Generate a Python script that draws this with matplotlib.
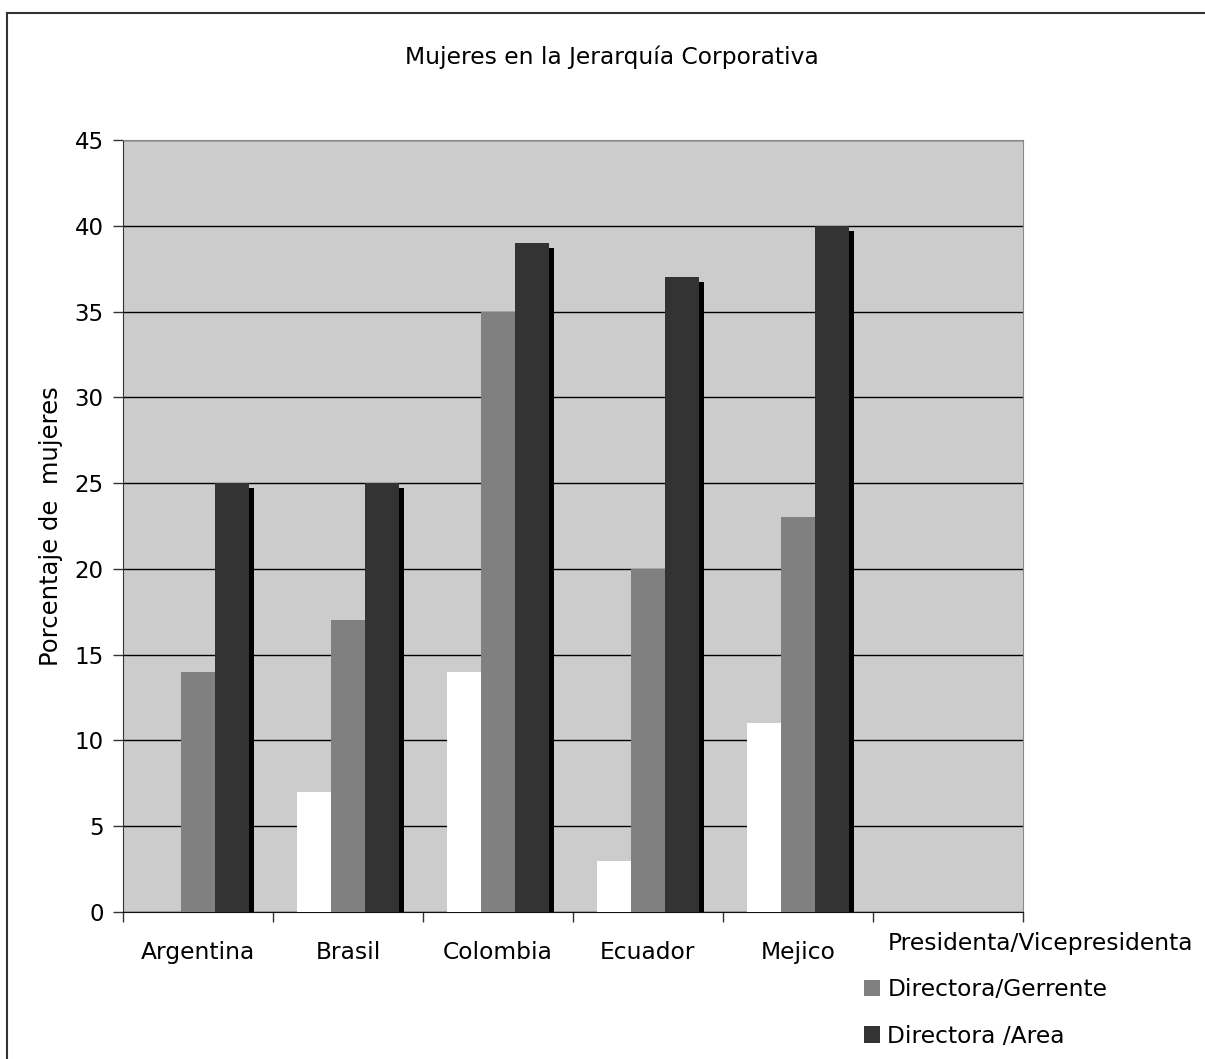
import matplotlib
matplotlib.use("Agg")
import matplotlib.pyplot as plt
import numpy as np
from matplotlib.lines import Line2D
from matplotlib.patches import Patch

countries = ["Argentina", "Brasil", "Colombia", "Ecuador", "Mejico"]
presidenta = [0, 7, 14, 3, 11]
gerente = [14, 17, 35, 20, 23]
area = [25, 25, 39, 37, 40]

series_names = ["Presidenta/Vicepresidenta", "Directora/Gerrente", "Directora /Area"]
series_colors = ["#ffffff", "#808080", "#333333"]

plt.rcParams["font.family"] = ["DejaVu Sans"]
FS = 16.8

W, H = 1205, 1059
fig = plt.figure(figsize=(W / 100, H / 100), dpi=100)
ax = fig.add_axes([123 / W, (H - 912) / H, 900 / W, 772 / H])
ax.set_facecolor("#cccccc")

n_slots = len(countries) + 1
x = np.arange(len(countries))
bw = 0.2267
dx = 5 / 150
dy = 5 * 45 / 772

for i, (vals, col) in enumerate(zip([presidenta, gerente, area], series_colors)):
    pos = x + (i - 1) * bw
    v = np.array(vals, dtype=float)
    # drop shadow behind each bar
    ax.bar(pos + dx, np.clip(v - dy, 0, None), width=bw, align="center",
           color="black", linewidth=0, zorder=2 + i * 2)
    ax.bar(pos, v, width=bw, align="center", color=col, linewidth=0,
           zorder=3 + i * 2)

ax.set_xlim(-0.5, n_slots - 0.5)
ax.set_ylim(0, 45)
ax.set_yticks(np.arange(0, 46, 5))
ax.yaxis.grid(True, color="black", linewidth=1.0, zorder=1)
ax.set_axisbelow(True)

ax.set_xticks(np.arange(n_slots + 1) - 0.5)
ax.set_xticklabels([])
ax.set_xticks(x, minor=True)
ax.set_xticklabels(countries, minor=True)
ax.tick_params(axis="x", which="major", direction="out", length=7, width=1, color="#333333")
ax.tick_params(axis="x", which="minor", length=0, pad=21, labelsize=FS)
ax.tick_params(axis="y", direction="out", length=7, width=1, color="#333333",
               pad=7, labelsize=16.5)

for side in ["top", "right"]:
    ax.spines[side].set_color("#888888")
ax.spines["left"].set_color("#333333")
ax.spines["bottom"].set_color("#111111")

ax.set_ylabel("Porcentaje de  mujeres", fontsize=17.5)
ax.yaxis.set_label_coords(-60 / 900, 0.5)

fig.text(612 / W, 1 - 57 / H, "Mujeres en la Jerarquía Corporativa",
         ha="center", va="center", fontsize=FS)

handles = [Patch(facecolor=c, edgecolor="none") for c in series_colors]
fig.legend(handles, series_names, loc="upper left",
           bbox_to_anchor=(864 / W, 1 - 932 / H), frameon=False, fontsize=FS,
           handlelength=0.7, handleheight=0.7, handletextpad=0.3,
           labelspacing=1.0, borderaxespad=0, borderpad=0)

# outer frame (left and top edges)
top = 1 - 13 / H
left = 7 / W
fig.add_artist(Line2D([left, left], [0, top], color="#333333", linewidth=1.5))
fig.add_artist(Line2D([left, 1], [top, top], color="#333333", linewidth=1.5))

fig.savefig("out.png", dpi=100)
